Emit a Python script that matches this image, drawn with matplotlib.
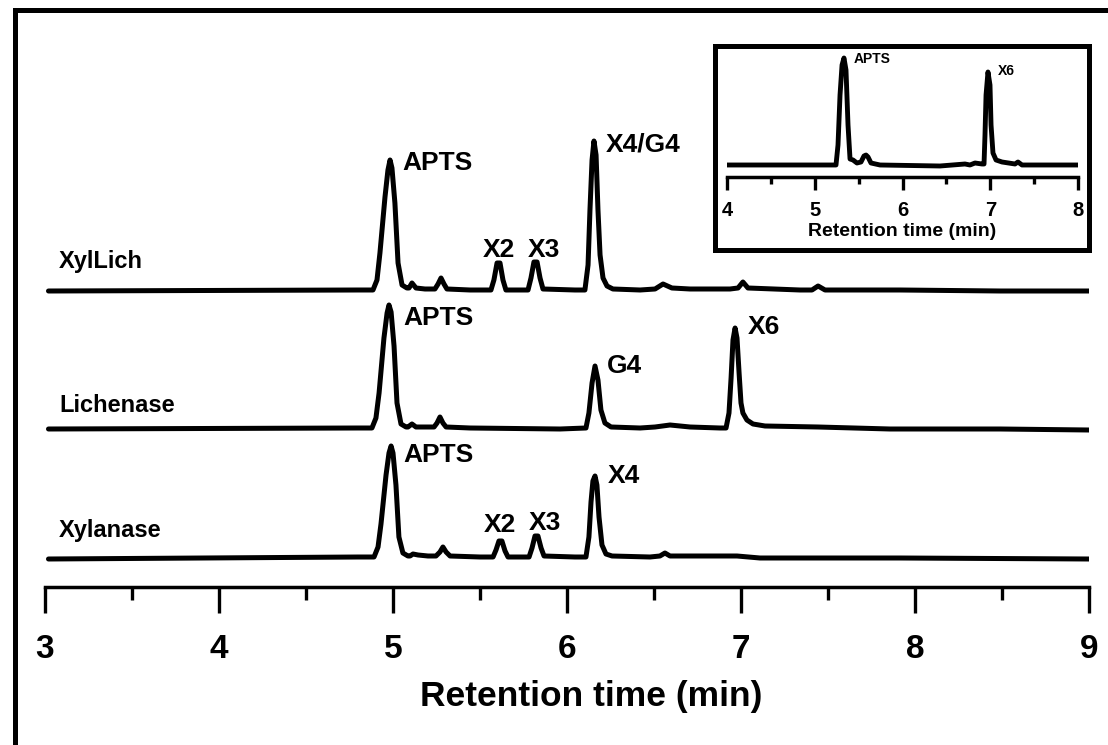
import matplotlib.pyplot as plt
from matplotlib.lines import Line2D
from matplotlib.patches import Rectangle
from matplotlib.ticker import MultipleLocator

plt.rcParams['font.family'] = ['Liberation Sans', 'DejaVu Sans']
plt.rcParams['font.weight'] = 'bold'

# Electropherograms: (retention time in min, signal above baseline)
xyllich = [(3.02, -1), (4.80, 0), (4.885, 0), (4.908, 10), (4.925, 37), (4.954, 93),
           (4.971, 120), (4.983, 130), (4.994, 122), (5.011, 87), (5.029, 27), (5.052, 5),
           (5.080, 2), (5.092, 2), (5.109, 7), (5.132, 2), (5.184, 1), (5.241, 1),
           (5.259, 6), (5.276, 12), (5.293, 6), (5.310, 1), (5.443, 0), (5.563, 0),
           (5.580, 10), (5.598, 27), (5.615, 27), (5.632, 10), (5.649, 0), (5.730, 0),
           (5.776, 0), (5.793, 12), (5.810, 28), (5.828, 28), (5.845, 12), (5.862, 1),
           (6.046, 0), (6.103, 0), (6.121, 25), (6.132, 80), (6.144, 130), (6.155, 149),
           (6.167, 135), (6.178, 80), (6.190, 35), (6.207, 12), (6.230, 4), (6.264, 1),
           (6.420, 0), (6.506, 1), (6.552, 6), (6.603, 2), (6.707, 1), (6.937, 1),
           (6.983, 2), (7.011, 8), (7.040, 2), (7.339, 0), (7.408, 0), (7.443, 4),
           (7.483, 0), (7.914, 0), (8.489, -1), (9.0, -1)]

lichenase = [(3.02, -1), (4.80, 0), (4.879, 0), (4.902, 10), (4.920, 35), (4.948, 90),
             (4.966, 115), (4.977, 123), (4.989, 116), (5.006, 82), (5.023, 25), (5.046, 4),
             (5.075, 1), (5.086, 1), (5.109, 4), (5.132, 1), (5.236, 1), (5.253, 5),
             (5.270, 11), (5.287, 5), (5.305, 1), (5.443, 0), (5.960, -1), (6.109, 0),
             (6.126, 15), (6.144, 45), (6.161, 62), (6.178, 48), (6.195, 18), (6.218, 5),
             (6.253, 1), (6.420, 0), (6.506, 1), (6.592, 3), (6.707, 1), (6.879, 0),
             (6.914, 0), (6.931, 15), (6.943, 50), (6.954, 88), (6.966, 100), (6.977, 90),
             (6.989, 55), (7.000, 25), (7.011, 15), (7.034, 8), (7.069, 4), (7.138, 2),
             (7.443, 1), (7.856, -1), (8.201, -1), (8.489, -1), (9.0, -2)]

xylanase = [(3.02, -2), (4.80, 0), (4.891, 0), (4.914, 10), (4.931, 33), (4.960, 82),
            (4.977, 104), (4.989, 111), (5.000, 104), (5.017, 72), (5.034, 20), (5.057, 4),
            (5.086, 1), (5.098, 1), (5.115, 3), (5.144, 2), (5.201, 1), (5.247, 1),
            (5.270, 5), (5.287, 10), (5.305, 5), (5.328, 1), (5.500, 0), (5.575, 0),
            (5.592, 7), (5.609, 16), (5.626, 16), (5.644, 6), (5.661, 0), (5.730, 0),
            (5.782, 0), (5.799, 9), (5.816, 21), (5.833, 21), (5.851, 9), (5.868, 1),
            (6.046, 0), (6.109, 0), (6.126, 20), (6.138, 55), (6.149, 76), (6.161, 81),
            (6.172, 72), (6.184, 40), (6.201, 12), (6.224, 3), (6.259, 1), (6.477, 0),
            (6.534, 1), (6.563, 4), (6.592, 1), (6.977, 1), (7.109, -1), (7.914, -1),
            (9.0, -2)]

# standard run shown in the inset
standard = [(4.0, 0), (5.20, 0), (5.242, 0), (5.265, 20), (5.288, 70), (5.311, 100),
            (5.333, 107), (5.356, 95), (5.379, 40), (5.402, 6), (5.436, 5), (5.481, 2),
            (5.527, 3), (5.561, 9), (5.584, 10), (5.607, 8), (5.641, 2), (5.744, 0),
            (6.427, -1), (6.712, 1), (6.769, 0), (6.826, 2), (6.906, 1), (6.929, 1),
            (6.940, 30), (6.952, 70), (6.974, 93), (6.997, 80), (7.009, 40), (7.031, 12),
            (7.066, 5), (7.134, 3), (7.282, 1), (7.316, 3), (7.362, 0), (8.0, 0)]

names = ['XylLich', 'Lichenase', 'Xylanase']
traces = [xyllich, lichenase, xylanase]
offsets = [297, 159, 30]
name_pos = [(3.08, 22), (3.08, 16), (3.08, 20)]

# peak labels: (text, time, height above baseline)
peak_labels = [
    [('APTS', 5.052, 120), ('X2', 5.517, 33), ('X3', 5.776, 33), ('X4/G4', 6.224, 138)],
    [('APTS', 5.057, 103), ('G4', 6.230, 55), ('X6', 7.040, 94)],
    [('APTS', 5.057, 95), ('X2', 5.523, 25), ('X3', 5.782, 27), ('X4', 6.236, 74)],
]
inset_labels = [('APTS', 5.447, 102), ('X6', 7.088, 90)]

fig = plt.figure(figsize=(11.08, 7.45), dpi=100)
ax = fig.add_axes([0.04061, 0.21208, 0.94224, 0.77450])

for name, tr, off, npos, labels in zip(names, traces, offsets, name_pos, peak_labels):
    t, s = zip(*tr)
    ax.plot(t, [v + off for v in s], color='black', lw=3.6,
            solid_capstyle='round', solid_joinstyle='round')
    ax.text(npos[0], npos[1] + off, name, fontsize=17, va='baseline', ha='left')
    for lab, lt, ly in labels:
        ax.text(lt, ly + off, lab, fontsize=19, va='baseline', ha='left')

ax.set_xlim(3, 9)
ax.set_ylim(0, 577)
for side in ['top', 'left', 'right']:
    ax.spines[side].set_visible(False)
ax.spines['bottom'].set_linewidth(2.5)
ax.set_yticks([])
ax.xaxis.set_major_locator(MultipleLocator(1))
ax.xaxis.set_minor_locator(MultipleLocator(0.5))
ax.tick_params(axis='x', which='major', length=18.7, width=2.4, labelsize=24, pad=15)
ax.tick_params(axis='x', which='minor', length=9.4, width=2.4)
ax.set_xlabel('Retention time (min)', fontsize=25.5, fontweight='bold')
ax.xaxis.label.set_va('center')
ax.xaxis.set_label_coords(0.523, -0.1906)
ax.patch.set_visible(False)

# inset with the standard
ins = fig.add_axes([0.65614, 0.76242, 0.31679, 0.17047])
t, s = zip(*standard)
ins.plot(t, s, color='black', lw=3.5, solid_capstyle='round', solid_joinstyle='round')
for lab, lt, ly in inset_labels:
    ins.text(lt, ly, lab, fontsize=10, va='baseline', ha='left')
ins.set_xlim(4, 8)
ins.set_ylim(-12, 115)
for side in ['top', 'left', 'right']:
    ins.spines[side].set_visible(False)
ins.spines['bottom'].set_linewidth(2.5)
ins.set_yticks([])
ins.xaxis.set_major_locator(MultipleLocator(1))
ins.xaxis.set_minor_locator(MultipleLocator(0.5))
ins.tick_params(axis='x', which='major', length=9.6, width=2.4, labelsize=14.5, pad=8)
ins.tick_params(axis='x', which='minor', length=5, width=2.4)
ins.set_xlabel('Retention time (min)', fontsize=14, fontweight='bold', labelpad=2)
ins.patch.set_visible(False)

# box around the inset
fig.add_artist(Rectangle((0.6457, 0.6638), 0.3376, 0.2751, transform=fig.transFigure,
                         fill=False, lw=3.6, edgecolor='black'))

# frame lines on the left and top
fig.add_artist(Line2D([0.0131, 0.0131], [0.0, 0.9872], transform=fig.transFigure,
                      color='black', lw=3.6, solid_capstyle='projecting'))
fig.add_artist(Line2D([0.0131, 1.0], [0.9872, 0.9872], transform=fig.transFigure,
                      color='black', lw=3.6, solid_capstyle='projecting'))

fig.savefig('out.png', dpi=100)
